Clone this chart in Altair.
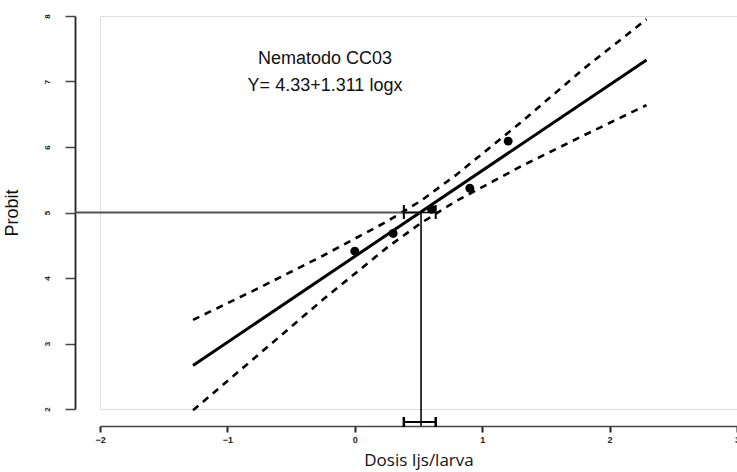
import altair as alt
import pandas as pd

# observed points (log dose, probit)
dose_log = [0.0, 0.301, 0.602, 0.903, 1.204]
probit_obs = [4.41, 4.68, 5.05, 5.37, 6.09]

# fitted line Y = 4.33 + 1.311 logx
fit_x = [-1.27, 2.29]
fit_y = [2.665, 7.33]

# confidence bands
band_x = [-1.27, -0.75, -0.25, 0.25, 0.52, 0.8, 1.3, 1.8, 2.29]
band_upper = [3.36, 3.85, 4.34, 4.86, 5.18, 5.58, 6.37, 7.20, 7.95]
band_lower = [1.98, 2.84, 3.67, 4.46, 4.84, 5.18, 5.70, 6.18, 6.64]

# LD50 and its interval
ld50 = [0.52]
ld50_probit = [5.0]
ci_low = [0.385]
ci_high = [0.635]

x_ticks = [-2, -1, 0, 1, 2, 3]
y_ticks = [2, 3, 4, 5, 6, 7, 8]
annotation = ["Nematodo CC03", "Y= 4.33+1.311 logx"]

W, H = 637, 393
X_DOM = [-2, 3]
Y_OFF, X_OFF = 25, 17
x_axis_left = X_DOM[0] - Y_OFF * (X_DOM[1] - X_DOM[0]) / W  # where the y axis sits

pts = pd.DataFrame({"x": dose_log, "y": probit_obs})
fit = pd.DataFrame({"x": fit_x, "y": fit_y})
bands = pd.concat([
    pd.DataFrame({"x": band_x, "y": band_upper, "b": "upper"}),
    pd.DataFrame({"x": band_x, "y": band_lower, "b": "lower"}),
])
ld = pd.DataFrame({"ld50": ld50, "p": ld50_probit, "lo": ci_low, "hi": ci_high,
                   "left": [x_axis_left]})

xs = alt.Scale(domain=X_DOM, nice=False, zero=False)
ys = alt.Scale(domain=[2, 8], nice=False, zero=False)

xaxis = alt.Axis(values=x_ticks, format="d", title="Dosis Ijs/larva", offset=X_OFF, grid=False,
                 domainColor="#444", domainWidth=1.6, tickColor="#222", tickWidth=2,
                 tickSize=6, labelFont="Liberation Sans", labelFontSize=9,
                 labelFontWeight="bold", labelColor="#222", labelPadding=3,
                 titleFont="Open Sans", titleFontSize=17, titleFontWeight="normal",
                 titleColor="#111", titlePadding=8, labelFlush=False)
yaxis = alt.Axis(values=y_ticks, format="d", title="Probit", offset=Y_OFF, grid=False,
                 domainColor="#222", domainWidth=1.8, tickColor="#444", tickWidth=1.5,
                 tickSize=10, labelFont="Liberation Sans", labelFontSize=8,
                 labelFontWeight="bold", labelColor="#222", labelAngle=270,
                 labelPadding=14, titleFont="Liberation Sans", titleFontSize=18,
                 titleFontWeight="normal", titleColor="#111", titlePadding=22,
                 labelFlush=False)

line = alt.Chart(fit).mark_line(color="black", strokeWidth=3).encode(
    x=alt.X("x:Q", scale=xs, axis=xaxis),
    y=alt.Y("y:Q", scale=ys, axis=yaxis),
)
band = alt.Chart(bands).mark_line(color="black", strokeWidth=2.6, strokeDash=[7, 6]).encode(
    x=alt.X("x:Q", scale=xs), y=alt.Y("y:Q", scale=ys), detail="b:N"
)
points = alt.Chart(pts).mark_point(filled=True, color="black", size=80, opacity=1).encode(
    x=alt.X("x:Q", scale=xs), y=alt.Y("y:Q", scale=ys)
)
base = alt.Chart(ld)
hline = base.mark_rule(color="#555", strokeWidth=1.8).encode(
    x=alt.X("left:Q", scale=xs), x2="ld50:Q", y=alt.Y("p:Q", scale=ys)
)
vline = base.mark_rule(color="#222", strokeWidth=1.8).encode(
    x=alt.X("ld50:Q", scale=xs), y=alt.Y("p:Q", scale=ys), y2=alt.value(H + X_OFF)
)
ci_mid = base.mark_rule(color="black", strokeWidth=1.5).encode(
    x=alt.X("lo:Q", scale=xs), x2="hi:Q", y=alt.Y("p:Q", scale=ys)
)
cap_lo_mid = base.mark_rule(color="black", strokeWidth=2).encode(
    x=alt.X("lo:Q", scale=xs), y=alt.value(189), y2=alt.value(203)
)
cap_hi_mid = base.mark_rule(color="black", strokeWidth=2).encode(
    x=alt.X("hi:Q", scale=xs), y=alt.value(189), y2=alt.value(203)
)
ci_bot = base.mark_rule(color="black", strokeWidth=2).encode(
    x=alt.X("lo:Q", scale=xs), x2="hi:Q", y=alt.value(H + 13)
)
cap_lo_bot = base.mark_rule(color="black", strokeWidth=2.5).encode(
    x=alt.X("lo:Q", scale=xs), y=alt.value(H + 8), y2=alt.value(H + 18)
)
cap_hi_bot = base.mark_rule(color="black", strokeWidth=2.5).encode(
    x=alt.X("hi:Q", scale=xs), y=alt.value(H + 8), y2=alt.value(H + 18)
)

text1 = alt.Chart(ld).mark_text(text=annotation[0], font="Liberation Sans", fontSize=18,
                                color="#111", align="center", baseline="alphabetic").encode(
    x=alt.value(225), y=alt.value(48)
)
text2 = alt.Chart(ld).mark_text(text=annotation[1], font="Liberation Sans", fontSize=18,
                                color="#111", align="center", baseline="alphabetic").encode(
    x=alt.value(225), y=alt.value(75)
)

chart = alt.layer(band, line, hline, vline, ci_mid, cap_lo_mid, cap_hi_mid,
                  ci_bot, cap_lo_bot, cap_hi_bot, points, text1, text2).properties(
    width=W, height=H,
    autosize=alt.AutoSizeParams(type="none"),
    padding={"left": 100, "top": 16, "right": 0, "bottom": 63},
).configure_view(stroke=None).configure(background="white")

chart.save("out.html", embed_options={"renderer": "svg", "actions": False})
